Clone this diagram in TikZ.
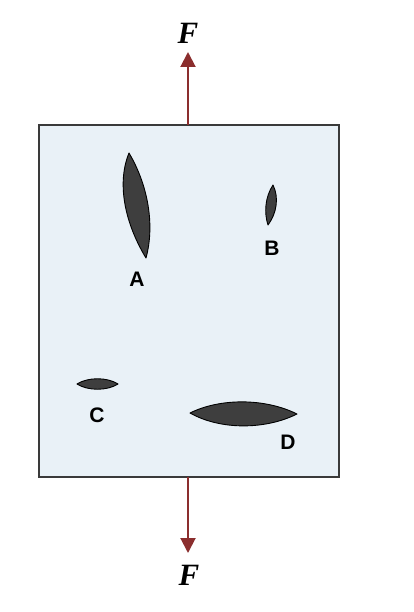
\documentclass[tikz,border=0pt]{standalone}
\usepackage{fontspec}
\setmainfont{Liberation Serif}
\newfontfamily\lblfont{Liberation Sans}
\usetikzlibrary{arrows.meta}
\definecolor{plate}{HTML}{E9F1F7}
\definecolor{edge}{HTML}{3A3A3A}
\definecolor{force}{HTML}{8B2E2E}
\definecolor{crack}{HTML}{3E3E3E}
\tikzset{
  forcearrow/.style={draw=force, line width=2pt, -{Triangle[length=15pt,width=15pt]}},
  forcelabel/.style={font=\fontsize{31}{34}\selectfont\bfseries\itshape, inner sep=0pt},
  cracklabel/.style={font=\lblfont\fontsize{21}{23}\selectfont\bfseries, inner sep=0pt},
  crackshape/.style={fill=crack, draw=black, line width=0.9pt, line join=round}
}
\begin{document}
\begin{tikzpicture}[x=1pt,y=-1pt]
\useasboundingbox (0,0) rectangle (413,612);
% plate
\draw[fill=plate, draw=edge, line width=1.6pt] (39,125) rectangle (339,477);
\coordinate (ptop) at (188,125);
\coordinate (pbot) at (188,477);
\coordinate (ttop) at (188,52);
\coordinate (tbot) at (188,553);
\draw[forcearrow] (ptop) -- (ttop);
\draw[forcearrow] (pbot) -- (tbot);
\node[forcelabel] (Ftop) at (188,33) {F};
\node[forcelabel] (Fbot) at (189,575) {F};
% cracks
% A
\draw[crackshape] (129,153) .. controls (116,185) and (126,225) .. (146,258)
                            .. controls (155,225) and (148,185) .. cycle;
% B
\draw[crackshape] (273,185) .. controls (265,197) and (264,213) .. (268,225)
                            .. controls (277,213) and (279,197) .. cycle;
% C
\draw[crackshape] (77,384) .. controls (88,377) and (107,377) .. (118,384)
                           .. controls (107,391) and (88,391) .. cycle;
% D
\draw[crackshape] (190,413) .. controls (220,398) and (265,398) .. (297,414)
                            .. controls (265,430) and (220,430) .. cycle;
% labels
\node[cracklabel] (lA) at (137,279) {A};
\node[cracklabel] (lB) at (272,248) {B};
\node[cracklabel] (lC) at (97,415) {C};
\node[cracklabel] (lD) at (288,442) {D};
\end{tikzpicture}
\end{document}
